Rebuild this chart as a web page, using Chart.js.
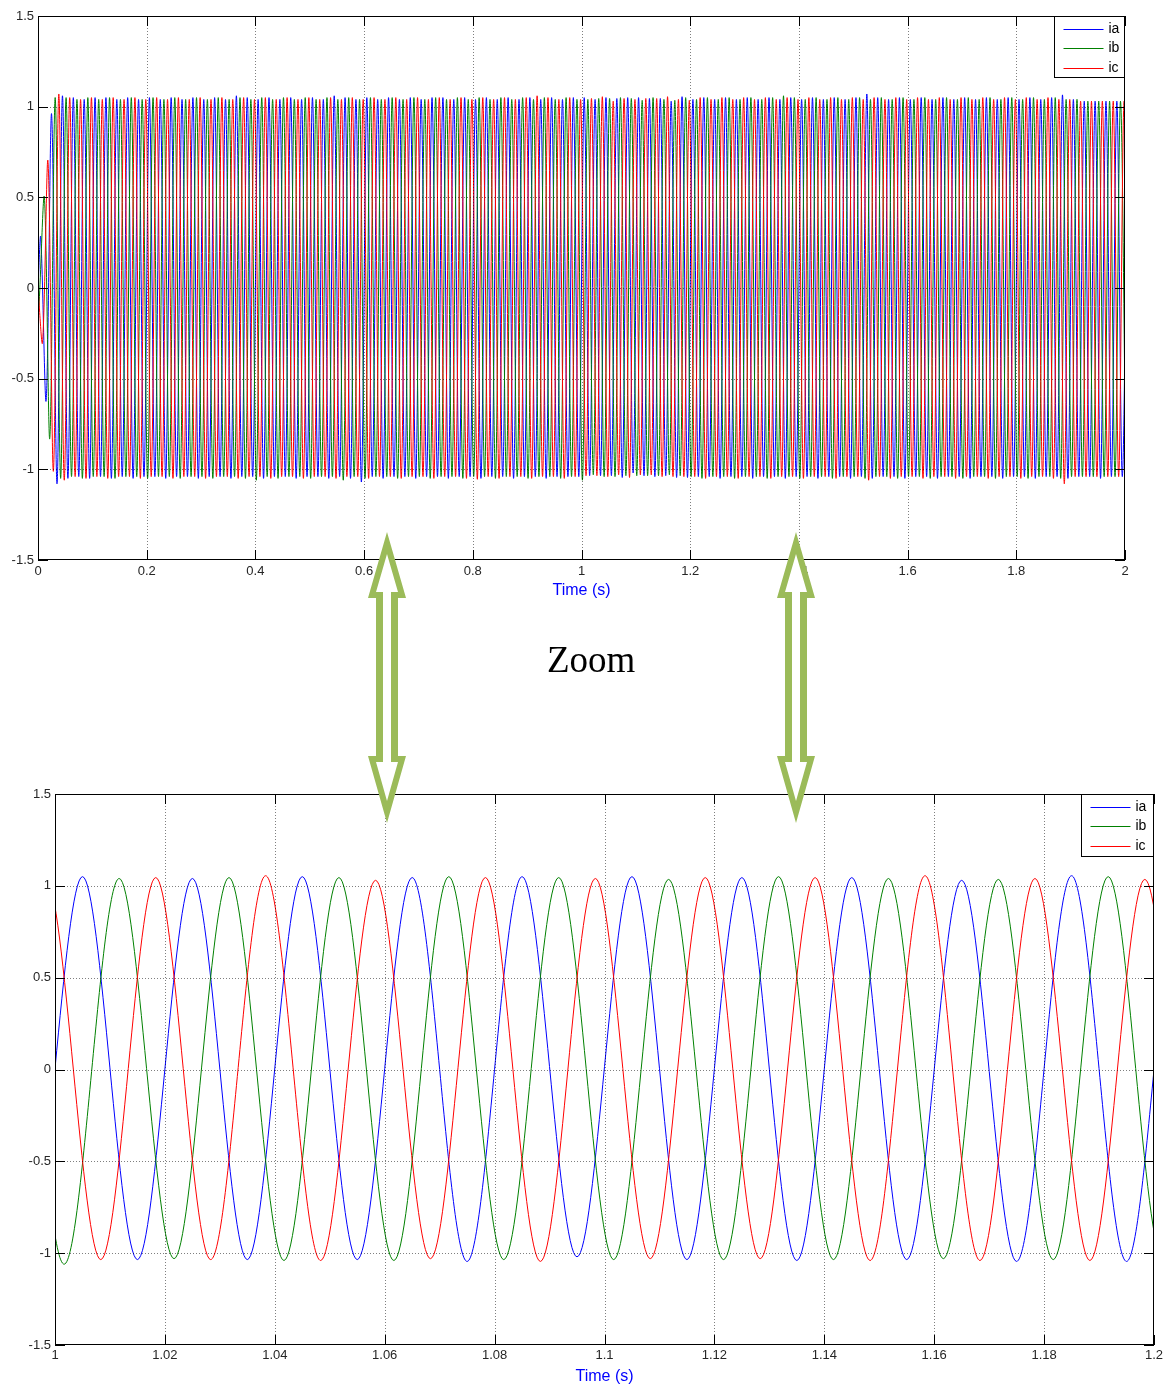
<!DOCTYPE html>
<html>
<head>
<meta charset="utf-8">
<title>Three-phase currents ia, ib, ic</title>
<script src="https://cdn.jsdelivr.net/npm/chart.js@4.4.1/dist/chart.umd.min.js"></script>
<style>
  body { margin: 0; background: #fff; }
  #page { position: relative; width: 1169px; height: 1389px; overflow: hidden; background: #fff; }
  canvas { position: absolute; left: 0; }
  #full { top: 0; }
  #zoom { top: 770px; }
  #overlay { position: absolute; left: 0; top: 0; pointer-events: none; }
</style>
</head>
<body>
<div id="page">
  <canvas id="full" width="1169" height="610"></canvas>
  <canvas id="zoom" width="1169" height="619"></canvas>
  <svg id="overlay" width="1169" height="1389">
    <polygon fill="#9bbb59" points="387,532 406,598 398,598 398,756 406,756 387,823 368,756 376,756 376,598 368,598"/>
    <polygon fill="#fff" points="387,554 398,592 391,592 391,762 398,762 387,801 376,762 383,762 383,592 376,592"/>
    <polygon fill="#9bbb59" points="796,532 815,598 807,598 807,756 815,756 796,823 777,756 785,756 785,598 777,598"/>
    <polygon fill="#fff" points="796,554 807,592 800,592 800,762 807,762 796,801 785,762 792,762 792,592 785,592"/>
    <text x="547" y="672" font-family="'Liberation Serif', 'Times New Roman', serif" font-size="37" fill="#000">Zoom</text>
  </svg>
</div>
<script>
const FONT = "'Liberation Sans', Arial, Helvetica, sans-serif";

const seriesNames = ['ia', 'ib', 'ic'];
const seriesColors = ['#0000ff', '#008000', '#ff0000'];

// every curve starts at 0 at t = 0, then the successive peaks/troughs
// (half a 50 Hz period apart)
const halfPeriod = 0.01;
const firstExtremum = [0.005, 0.001667, 0.008333];

// ia: peak, trough, peak, ...
const ia = [
  0.28,-0.62, 0.96,-1.08, 1.06,-1.05, 1.05,-1.04, 1.04,-1.05, 1.05,-1.04, 1.05,-1.05, 1.04,-1.04, 1.05,-1.05, 1.04,-1.04,
  1.05,-1.04, 1.04,-1.05, 1.05,-1.04, 1.04,-1.04, 1.05,-1.05, 1.04,-1.04, 1.05,-1.04, 1.04,-1.05, 1.06,-1.04, 1.05,-1.04,
  1.04,-1.05, 1.05,-1.04, 1.04,-1.04, 1.05,-1.05, 1.04,-1.04, 1.05,-1.04, 1.04,-1.05, 1.06,-1.04, 1.05,-1.05, 1.04,-1.07,
  1.05,-1.04, 1.04,-1.05, 1.05,-1.04, 1.04,-1.04, 1.05,-1.05, 1.04,-1.04, 1.05,-1.04, 1.05,-1.05, 1.04,-1.04, 1.05,-1.04,
  1.04,-1.05, 1.05,-1.04, 1.04,-1.04, 1.05,-1.05, 1.04,-1.04, 1.05,-1.04, 1.04,-1.05, 1.05,-1.04, 1.04,-1.04, 1.05,-1.04,
  1.05,-1.035, 1.04,-1.035, 1.05,-1.035, 1.045,-1.045, 1.05,-1.02, 1.05,-1.035, 1.045,-1.04, 1.045,-1.035, 1.03,-1.045, 1.055,-1.045,
  1.04,-1.04, 1.05,-1.04, 1.04,-1.05, 1.05,-1.04, 1.04,-1.04, 1.05,-1.05, 1.04,-1.04, 1.05,-1.04, 1.04,-1.05, 1.05,-1.04,
  1.04,-1.04, 1.05,-1.05, 1.04,-1.04, 1.05,-1.04, 1.04,-1.05, 1.05,-1.04, 1.07,-1.05, 1.05,-1.04, 1.04,-1.04, 1.05,-1.05,
  1.04,-1.04, 1.05,-1.04, 1.04,-1.05, 1.05,-1.04, 1.04,-1.04, 1.05,-1.05, 1.04,-1.04, 1.05,-1.04, 1.04,-1.05, 1.05,-1.04,
  1.04,-1.04, 1.05,-1.05, 1.04,-1.04, 1.05,-1.04, 1.065,-1.05, 1.04,-1.04, 1.03,-1.04, 1.03,-1.05, 1.03,-1.04, 1.03,-1.04,
  1.03
];

// ib: trough, peak, trough, ...
const ib = [
  -0.1,0.5, -0.83,1.05, -1.05,1.05, -1.04,1.04, -1.05,1.05, -1.04,1.04, -1.04,1.05, -1.05,1.04, -1.04,1.05, -1.04,1.04,
  -1.05,1.05, -1.04,1.04, -1.04,1.05, -1.05,1.04, -1.04,1.05, -1.04,1.04, -1.05,1.05, -1.04,1.04, -1.04,1.05, -1.05,1.04,
  -1.06,1.05, -1.04,1.04, -1.05,1.05, -1.04,1.04, -1.04,1.05, -1.05,1.04, -1.04,1.05, -1.04,1.04, -1.06,1.05, -1.04,1.04,
  -1.05,1.05, -1.04,1.04, -1.04,1.05, -1.05,1.04, -1.04,1.05, -1.04,1.04, -1.05,1.05, -1.04,1.04, -1.04,1.05, -1.05,1.04,
  -1.04,1.05, -1.04,1.04, -1.05,1.05, -1.04,1.04, -1.04,1.05, -1.05,1.04, -1.04,1.05, -1.04,1.04, -1.05,1.05, -1.04,1.04,
  -1.06,1.04, -1.03,1.045, -1.04,1.045, -1.04,1.05, -1.035,1.045, -1.035,1.035, -1.035,1.05, -1.035,1.04, -1.03,1.035, -1.035,1.05,
  -1.04,1.04, -1.05,1.05, -1.04,1.04, -1.04,1.05, -1.05,1.04, -1.04,1.05, -1.04,1.04, -1.05,1.05, -1.04,1.06, -1.04,1.05,
  -1.05,1.04, -1.04,1.05, -1.04,1.04, -1.05,1.05, -1.04,1.04, -1.04,1.05, -1.05,1.04, -1.04,1.05, -1.04,1.04, -1.05,1.05,
  -1.04,1.04, -1.04,1.05, -1.05,1.04, -1.04,1.05, -1.04,1.04, -1.05,1.05, -1.04,1.04, -1.04,1.05, -1.05,1.04, -1.04,1.05,
  -1.04,1.04, -1.05,1.05, -1.04,1.04, -1.04,1.05, -1.05,1.04, -1.04,1.04, -1.04,1.03, -1.04,1.03, -1.04,1.03, -1.04,1.03,
  -1.04
];

// ic: trough, peak, trough, ...
const ic = [
  -0.3,0.7, -1.01,1.07, -1.06,1.05, -1.04,1.04, -1.05,1.05, -1.04,1.04, -1.05,1.05, -1.04,1.04, -1.04,1.05, -1.05,1.04,
  -1.04,1.05, -1.04,1.04, -1.05,1.05, -1.04,1.04, -1.04,1.05, -1.05,1.04, -1.04,1.05, -1.04,1.04, -1.05,1.05, -1.04,1.04,
  -1.04,1.05, -1.05,1.04, -1.04,1.05, -1.04,1.04, -1.05,1.05, -1.04,1.04, -1.04,1.05, -1.05,1.04, -1.04,1.05, -1.04,1.04,
  -1.05,1.05, -1.04,1.04, -1.04,1.05, -1.05,1.04, -1.04,1.05, -1.04,1.04, -1.05,1.05, -1.04,1.04, -1.04,1.05, -1.05,1.04,
  -1.055,1.05, -1.04,1.04, -1.05,1.05, -1.04,1.04, -1.04,1.05, -1.05,1.06, -1.04,1.05, -1.04,1.04, -1.05,1.05, -1.04,1.04,
  -1.035,1.045, -1.035,1.055, -1.04,1.03, -1.03,1.045, -1.045,1.04, -1.03,1.045, -1.03,1.045, -1.04,1.055, -1.04,1.04, -1.04,1.035,
  -1.04,1.05, -1.05,1.04, -1.04,1.05, -1.04,1.04, -1.05,1.05, -1.04,1.04, -1.04,1.05, -1.05,1.04, -1.04,1.05, -1.04,1.04,
  -1.05,1.05, -1.04,1.04, -1.04,1.05, -1.05,1.04, -1.04,1.05, -1.04,1.04, -1.06,1.05, -1.04,1.04, -1.05,1.05, -1.04,1.04,
  -1.04,1.05, -1.05,1.04, -1.04,1.05, -1.04,1.04, -1.05,1.05, -1.04,1.04, -1.04,1.05, -1.05,1.04, -1.04,1.05, -1.04,1.04,
  -1.05,1.05, -1.04,1.04, -1.04,1.05, -1.05,1.04, -1.08,1.04, -1.04,1.03, -1.04,1.03, -1.04,1.03, -1.04,1.03, -1.04,1.03,
  -1.04
];

const fullTicksX = [0, 0.2, 0.4, 0.6, 0.8, 1, 1.2, 1.4, 1.6, 1.8, 2];
const zoomTicksX = [1, 1.02, 1.04, 1.06, 1.08, 1.1, 1.12, 1.14, 1.16, 1.18, 1.2];
const ticksY = [-1.5, -1, -0.5, 0, 0.5, 1, 1.5];

function toPoints(first, vals) {
  const pts = [{x: 0, y: 0}];
  vals.forEach((v, k) => pts.push({x: first + k * halfPeriod, y: v}));
  return pts;
}

function makeDatasets() {
  return [ia, ib, ic].map((vals, i) => ({
    label: seriesNames[i],
    data: toPoints(firstExtremum[i], vals),
    borderColor: seriesColors[i],
    borderWidth: 1,
    pointRadius: 0,
    tension: 0.33,
    order: 2 - i
  }));
}

// matlab style frame: dotted grid, box, inward ticks, legend box
const frame = {
  id: 'frame',
  afterDatasetsDraw(chart, args, opts) {
    const {ctx, chartArea: a, scales: {x, y}} = chart;
    const tl = 10;
    ctx.save();

    ctx.strokeStyle = 'rgba(0,0,0,0.5)';
    ctx.lineWidth = 1;
    ctx.setLineDash([1, 2]);
    ctx.beginPath();
    x.ticks.forEach(t => {
      const px = Math.round(x.getPixelForValue(t.value)) + 0.5;
      if (px > a.left + 2 && px < a.right - 2) { ctx.moveTo(px, a.top); ctx.lineTo(px, a.bottom); }
    });
    y.ticks.forEach(t => {
      const py = Math.round(y.getPixelForValue(t.value)) + 0.5;
      if (py > a.top + 2 && py < a.bottom - 2) { ctx.moveTo(a.left, py); ctx.lineTo(a.right, py); }
    });
    ctx.stroke();
    ctx.setLineDash([]);

    ctx.strokeStyle = '#000';
    ctx.beginPath();
    x.ticks.forEach(t => {
      const px = Math.round(x.getPixelForValue(t.value)) + 0.5;
      ctx.moveTo(px, a.bottom); ctx.lineTo(px, a.bottom - tl);
      ctx.moveTo(px, a.top); ctx.lineTo(px, a.top + tl);
    });
    y.ticks.forEach(t => {
      const py = Math.round(y.getPixelForValue(t.value)) + 0.5;
      ctx.moveTo(a.left, py); ctx.lineTo(a.left + tl, py);
      ctx.moveTo(a.right, py); ctx.lineTo(a.right - tl, py);
    });
    ctx.stroke();
    ctx.strokeRect(Math.round(a.left) + 0.5, Math.round(a.top) + 0.5,
      Math.round(a.width) - 1, Math.round(a.height) - 1);

    // legend
    const w = opts.width, h = opts.height;
    const lx = Math.round(a.right) - w - 0.5, ly = Math.round(a.top) + 0.5;
    ctx.fillStyle = '#fff';
    ctx.fillRect(lx, ly, w, h);
    ctx.strokeRect(lx, ly, w, h);
    ctx.font = '14px ' + FONT;
    ctx.textBaseline = 'middle';
    chart.data.datasets.forEach((ds, i) => {
      const ry = Math.round(ly + 12 + i * 19.5) + 0.5;
      ctx.strokeStyle = ds.borderColor;
      ctx.beginPath();
      ctx.moveTo(lx + 9, ry); ctx.lineTo(lx + 49, ry);
      ctx.stroke();
      ctx.fillStyle = '#000';
      ctx.fillText(ds.label, lx + 54, ry);
    });
    ctx.restore();
  }
};

function makeChart(id, xMin, xMax, xTicks, lay) {
  return new Chart(document.getElementById(id), {
    type: 'line',
    data: {datasets: makeDatasets()},
    plugins: [frame],
    options: {
      responsive: false,
      animation: false,
      events: [],
      layout: {autoPadding: false, padding: {left: 0, top: lay.top, right: lay.right, bottom: 0}},
      elements: {line: {capBezierPoints: false}},
      plugins: {
        legend: {display: false},
        tooltip: {enabled: false},
        frame: {width: lay.legendW, height: lay.legendH}
      },
      scales: {
        x: {
          type: 'linear', min: xMin, max: xMax,
          afterBuildTicks: s => { s.ticks = xTicks.map(v => ({value: v})); },
          afterFit: s => { s.height = lay.xHeight; },
          grid: {display: false, drawTicks: false},
          border: {display: false},
          ticks: {autoSkip: false, maxRotation: 0, padding: lay.xPad, color: '#262626',
            font: {family: FONT, size: 13}, callback: v => String(v)},
          title: {display: true, text: 'Time (s)', color: '#0000ff',
            font: {family: FONT, size: 16}, padding: {top: 0, bottom: lay.titlePad}}
        },
        y: {
          type: 'linear', min: -1.5, max: 1.5,
          afterBuildTicks: s => { s.ticks = ticksY.map(v => ({value: v})); },
          afterFit: s => { s.width = lay.yWidth; },
          grid: {display: false, drawTicks: false},
          border: {display: false},
          ticks: {padding: 4, color: '#262626', font: {family: FONT, size: 13},
            callback: v => String(v)}
        }
      }
    }
  });
}

makeChart('full', 0, 2, fullTicksX,
  {top: 16, right: 44, yWidth: 38, xHeight: 50, xPad: 4, titlePad: 10, legendW: 70, legendH: 61});
makeChart('zoom', 1, 1.2, zoomTicksX,
  {top: 24, right: 15, yWidth: 55, xHeight: 44, xPad: 3, titlePad: 3, legendW: 72, legendH: 62});
</script>
</body>
</html>
